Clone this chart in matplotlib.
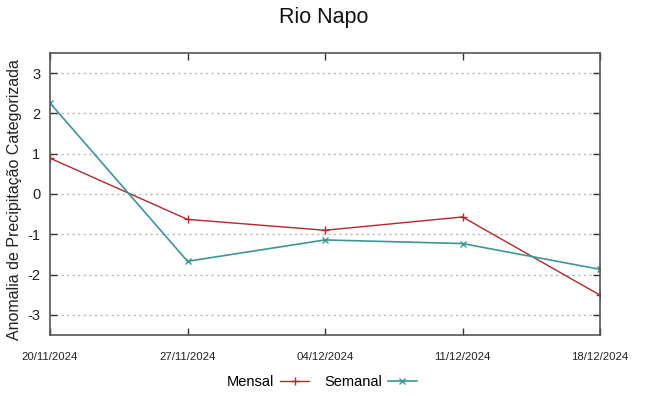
import matplotlib
matplotlib.use("Agg")
import matplotlib.pyplot as plt
import datetime as dt

plt.rcParams['font.family'] = ['Liberation Sans', 'DejaVu Sans']

dates = ["20/11/2024", "27/11/2024", "04/12/2024", "11/12/2024", "18/12/2024"]
mensal = [0.89, -0.63, -0.90, -0.57, -2.51]
semanal = [2.26, -1.67, -1.14, -1.23, -1.87]
yticks = [-3, -2, -1, 0, 1, 2, 3]

x = [dt.datetime.strptime(d, "%d/%m/%Y") for d in dates]

fig = plt.figure(figsize=(6.48, 3.96), dpi=100)
ax = fig.add_axes([50/648, 1-335/396, 550/648, 282/396])

red = "#b02a2a"
teal = "#3f9595"
ax.plot(x, mensal, color=red, lw=1.0, marker='+', ms=6, mew=1.0, label="Mensal")
ax.plot(x, semanal, color=teal, lw=1.2, marker='x', ms=5, mew=1.0, label="Semanal")

ax.set_xlim(x[0], x[-1])
ax.set_ylim(-3.5, 3.5)
ax.set_yticks(yticks)
ax.set_yticklabels([str(v) for v in yticks], fontsize=10.5)
ax.set_xticks(x)
ax.set_xticklabels(dates, fontsize=8.2)
ax.tick_params(axis='both', direction='in', length=5, width=1, color='#333333',
               top=True, right=True, labelcolor='#222222')
ax.tick_params(axis='x', pad=12)
ax.tick_params(axis='y', pad=7)
ax.grid(axis='y', linestyle=(0, (1.5, 2.5)), color='#b5b5b5', lw=1)
for s in ax.spines.values():
    s.set_color('#555555')
    s.set_linewidth(1.2)

ax.set_ylabel("Anomalia de Precipitação Categorizada", fontsize=11.5, color='#222222')
ax.yaxis.set_label_coords(-0.05, 0.48)
fig.text(0.5, 1-18/396, "Rio Napo", ha='center', va='center', fontsize=15.5, color='#111111')

fig.legend(loc='center', bbox_to_anchor=(322/648, 1-382/396), ncol=2, frameon=False,
           markerfirst=False, fontsize=10.5, handlelength=2.0, columnspacing=1.0,
           handletextpad=0.4)

fig.savefig("out.png", dpi=100)
